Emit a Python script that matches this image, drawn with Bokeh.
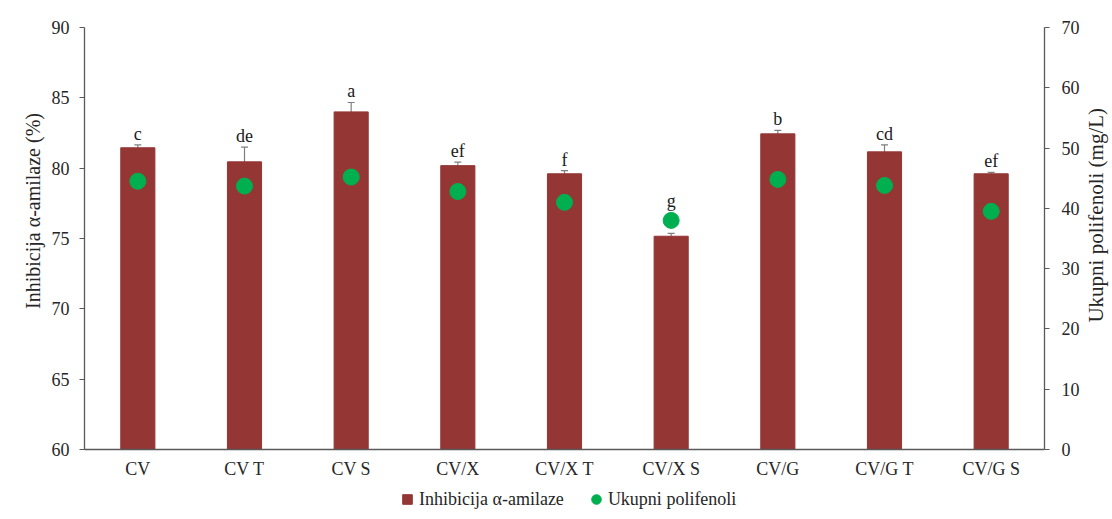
import math
from bokeh.plotting import figure
from bokeh.layouts import column, row
from bokeh.models import (FactorRange, Range1d, LinearAxis, Whisker, ColumnDataSource,
                          Legend, LegendItem, FixedTicker, TeeHead)
from bokeh.core.properties import value
from bokeh.embed import file_html
from bokeh.resources import INLINE

categories = ["CV", "CV T", "CV S", "CV/X", "CV/X T", "CV/X S", "CV/G", "CV/G T", "CV/G S"]
inhibition = [81.45, 80.45, 84.0, 80.18, 79.6, 75.16, 82.44, 81.16, 79.6]
inhibition_err = [0.2, 1.05, 0.67, 0.25, 0.23, 0.2, 0.25, 0.5, 0.1]
polyphenols = [44.5, 43.7, 45.2, 42.8, 41.0, 38.0, 44.8, 43.8, 39.5]
letters = ["c", "de", "a", "ef", "f", "g", "b", "cd", "ef"]
left_title = "Inhibicija α-amilaze (%)"
right_title = "Ukupni polifenoli (mg/L)"

LEFT_MIN, LEFT_MAX = 60, 90
RIGHT_MIN, RIGHT_MAX = 0, 70

FONT = "Liberation Serif"
BAR = "#943634"
GREEN = "#00B050"
AXIS = "#595959"
TXT = "#262626"

# label position: above error bar or above the dot, whichever is higher
scale = (LEFT_MAX - LEFT_MIN) / (RIGHT_MAX - RIGHT_MIN)
label_y = []
for v, e, pp in zip(inhibition, inhibition_err, polyphenols):
    dot_top = LEFT_MIN + pp * scale + 0.6
    label_y.append(max(v + e, dot_top))

src = ColumnDataSource(dict(
    x=categories, top=inhibition,
    upper=[v + e for v, e in zip(inhibition, inhibition_err)],
    lower=[v - e for v, e in zip(inhibition, inhibition_err)],
    pol=polyphenols, lab=letters, laby=label_y,
))

W, H = 1082, 481
p = figure(x_range=FactorRange(*categories, range_padding=0),
           y_range=Range1d(LEFT_MIN, LEFT_MAX),
           width=W, height=H, output_backend="svg", toolbar_location=None,
           min_border_left=84, min_border_right=W - 1048, min_border_top=27,
           min_border_bottom=H - 449)
p.extra_y_ranges = {"right": Range1d(RIGHT_MIN, RIGHT_MAX)}
p.grid.visible = False
p.outline_line_color = None
p.background_fill_color = "white"
p.border_fill_color = "white"

bars = p.vbar(x="x", top="top", bottom=LEFT_MIN, width=0.32, source=src,
              fill_color=BAR, line_color=BAR)
whisk = Whisker(source=src, base="x", upper="upper", lower="lower",
                line_color="#7f7f7f", line_width=1.2,
                upper_head=TeeHead(size=7, line_color="#7f7f7f", line_width=1.2),
                lower_head=TeeHead(size=7, line_color="#7f7f7f", line_width=1.2))
p.add_layout(whisk)

dots = p.scatter(x="x", y="pol", size=16, source=src, y_range_name="right",
                 fill_color=GREEN, line_color=GREEN)

p.text(x="x", y="laby", text="lab", source=src, text_align="center",
       text_baseline="bottom", text_font=value(FONT), text_font_size="18px",
       text_color="#1a1a1a", y_offset=-1)

# left axis
la = p.yaxis[0]
la.ticker = FixedTicker(ticks=list(range(LEFT_MIN, LEFT_MAX + 1, 5)))
la.axis_label = "\u00a0" * 11 + left_title
la.axis_label_text_font_size = "20px"
la.major_label_standoff = 10
la.axis_label_standoff = 5
# right axis (its title is drawn in a narrow strip beside the chart)
ra = LinearAxis(y_range_name="right", ticker=FixedTicker(ticks=list(range(RIGHT_MIN, RIGHT_MAX + 1, 10))))
ra.major_label_standoff = 12
p.add_layout(ra, "right")

for ax in [la, ra]:
    ax.major_tick_out = 5
    ax.major_tick_in = 0
    ax.minor_tick_line_color = None
    ax.axis_line_color = AXIS
    ax.major_tick_line_color = AXIS
    ax.axis_line_width = 1.3
    ax.major_label_text_font = FONT
    ax.major_label_text_font_size = "18px"
    ax.major_label_text_color = TXT
    ax.axis_label_text_font = FONT
    ax.axis_label_text_font_style = "normal"
    ax.axis_label_text_color = TXT

xa = p.xaxis[0]
xa.major_tick_line_color = None
xa.minor_tick_line_color = None
xa.axis_line_color = AXIS
xa.axis_line_width = 1.3
xa.major_label_text_font = FONT
xa.major_label_text_font_size = "18px"
xa.major_label_text_color = TXT
xa.major_label_standoff = 3

# right axis title strip (pixel ranges, y measured from the top)
SW = 28
side = figure(width=SW, height=H, x_range=Range1d(0, SW), y_range=Range1d(H, 0),
              x_axis_type=None, y_axis_type=None, output_backend="svg",
              toolbar_location=None, min_border=0)
side.grid.visible = False
side.outline_line_color = None
side.text(x=[13], y=[214], text=[right_title], angle=math.pi / 2,
          text_align="center", text_baseline="middle", text_font=value(FONT),
          text_font_size="21px", text_color=TXT)

# legend strip below the chart
lg = figure(width=W + SW, height=36, x_range=Range1d(0, 1), y_range=Range1d(0, 1),
            x_axis_type=None, y_axis_type=None, output_backend="svg", toolbar_location=None,
            min_border=0)
lg.grid.visible = False
lg.outline_line_color = None
off = ColumnDataSource(dict(x=[-10], y=[-10]))
leg_bar = lg.scatter(x="x", y="y", source=off, marker="square", size=10,
                     fill_color=BAR, line_color=BAR)
leg_dot = lg.scatter(x="x", y="y", source=off, marker="circle", size=10,
                     fill_color=GREEN, line_color=GREEN)
legend = Legend(items=[LegendItem(label="Inhibicija α-amilaze", renderers=[leg_bar]),
                       LegendItem(label="Ukupni polifenoli", renderers=[leg_dot])],
                orientation="horizontal", location=(395, 6),
                label_text_font=FONT, label_text_font_size="18px", label_text_color=TXT,
                glyph_width=24, glyph_height=24, spacing=20, padding=0, margin=0,
                border_line_color=None, background_fill_alpha=0, label_standoff=0)
lg.add_layout(legend)

layout = column(row(p, side, spacing=0), lg, spacing=0)
open("out.html", "w").write(file_html(layout, INLINE))
